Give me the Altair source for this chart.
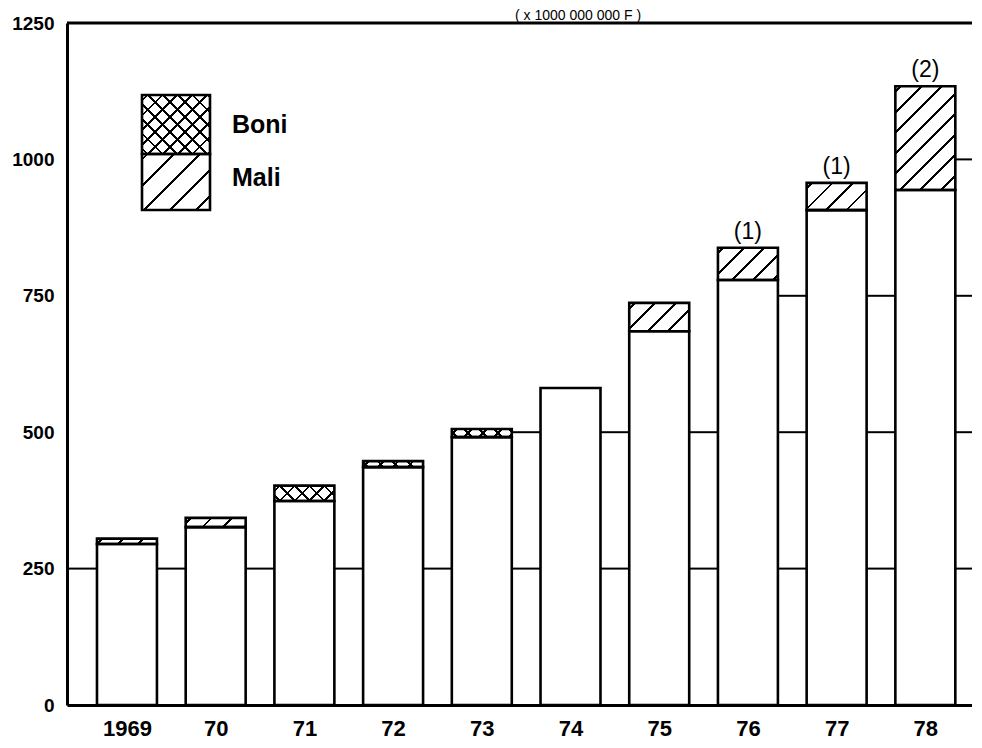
import json
import math
import altair as alt
import pandas as pd

# ---------------- data ----------------
years = ["1969", "70", "71", "72", "73", "74", "75", "76", "77", "78"]
base_vals = [295, 326, 374, 436, 491, 581, 685, 779, 907, 944]
mali_vals = [10, 17, 0, 0, 0, 0, 52, 59, 50, 190]
boni_vals = [0, 0, 28, 11, 15, 0, 0, 0, 0, 0]
notes = ["", "", "", "", "", "", "", "(1)", "(1)", "(2)"]
grid_levels = [250, 500, 750, 1000]
y_ticks = [0, 250, 500, 750, 1000, 1250]
legend_labels = ["Boni", "Mali"]
unit_title = ["( x 1000 000 000 F )"]
Y_MAX = 1250

# ---------------- style constants ----------------
HALF = 0.338          # half bar width (in category units)
XMIN, XMAX = -0.676, 9.526
W_PX, H_PX = 905, 682
NARROW = "Liberation Sans Narrow, Arial Narrow, Liberation Sans, Arial, sans-serif"
SANS = "Liberation Sans, Arial, Helvetica, sans-serif"
K = 240 * math.sqrt(2)   # gradient length (px along the normal = 240)
CLEAR = "rgba(0,0,0,0)"


def stripe_stops(period, thick, length=240.0, phase=3.0):
    stops = [{"offset": 0.0, "color": CLEAR}]
    k = 0
    while True:
        a = (phase + k * period) / length
        b = (phase + k * period + thick) / length
        if b >= 0.999:
            break
        stops += [{"offset": round(a, 5), "color": CLEAR},
                  {"offset": round(a, 5), "color": "black"},
                  {"offset": round(b, 5), "color": "black"},
                  {"offset": round(b, 5), "color": CLEAR}]
        k += 1
    stops.append({"offset": 1.0, "color": CLEAR})
    return stops


def stops_expr(stops):
    return "[" + ",".join("{offset: %s, color: '%s'}" % (s["offset"], s["color"]) for s in stops) + "]"


MALI_STOPS = stripe_stops(14.5, 1.9)
BONI_STOPS = stripe_stops(10.5, 1.9)
LEG_MALI_STOPS = stripe_stops(18.5, 1.9)

Wx = "(scale('x', datum.x2) - scale('x', datum.x1))"
Hx = "(scale('y', datum.lo) - scale('y', datum.hi))"
D = f"({Wx}*{Wx}+{Hx}*{Hx})"


def slash_expr(stops):
    return ("{gradient: 'linear', x1: 0, y1: 0, "
            f"x2: {K}*{Wx}/{D}, y2: {K}*{Hx}/{D}, stops: {stops_expr(stops)}}}")


def back_expr(stops):
    return ("{gradient: 'linear', x1: 0, y1: 1, "
            f"x2: {K}*{Wx}/{D}, y2: 1 - {K}*{Hx}/{D}, stops: {stops_expr(stops)}}}")


def slash_grad(w, h, stops):
    d = w * w + h * h
    return {"gradient": "linear", "x1": 0, "y1": 0, "x2": K * w / d, "y2": K * h / d, "stops": stops}


def back_grad(w, h, stops):
    d = w * w + h * h
    return {"gradient": "linear", "x1": 0, "y1": 1, "x2": K * w / d, "y2": 1 - K * h / d, "stops": stops}


# ---------------- tables ----------------
rows = []
totals = []
for i, y in enumerate(years):
    b, m, n = base_vals[i], mali_vals[i], boni_vals[i]
    rows.append({"i": i, "year": y, "kind": "base", "lo": 0, "hi": b})
    if m > 0:
        rows.append({"i": i, "year": y, "kind": "mali", "lo": b, "hi": b + m})
    if n > 0:
        rows.append({"i": i, "year": y, "kind": "boni", "lo": b + m, "hi": b + m + n})
    totals.append(b + m + n)
seg = pd.DataFrame(rows)

bars = pd.DataFrame({"i": range(len(years)), "year": years, "total": totals, "note": notes})

heights = [Y_MAX] + totals + [Y_MAX]
grows = []
for g in range(len(years) + 1):
    for lv in grid_levels:
        if lv < min(heights[g], heights[g + 1]):
            grows.append({"gap": g, "level": lv})
grid = pd.DataFrame(grows)

xs = alt.Scale(domain=[XMIN, XMAX], nice=False, zero=False)
ys = alt.Scale(domain=[0, Y_MAX], nice=False, zero=True)

X_AXIS = alt.Axis(
    values=list(range(len(years))), labelExpr=f"{json.dumps(years)}[datum.value]",
    ticks=False, grid=False, domain=True, domainColor="black", domainWidth=3,
    labelFont=NARROW, labelFontSize=22, labelFontWeight="bold", labelColor="black",
    labelPadding=13, labelAngle=0, title=None)
Y_AXIS = alt.Axis(
    values=y_ticks, format="d", ticks=False, grid=False, domain=True, domainColor="black",
    domainWidth=3, labelFont=NARROW, labelFontSize=19, labelFontWeight="bold",
    labelColor="black", labelPadding=13, title=None)

seg_base = alt.Chart(seg).transform_calculate(
    x1=f"datum.i - {HALF}", x2=f"datum.i + {HALF}"
)

# gridlines visible only in the gaps between columns
grid_layer = alt.Chart(grid).transform_calculate(
    gx1=f"datum.gap == 0 ? {XMIN} : datum.gap - 1 + {HALF}",
    gx2=f"datum.gap == {len(years)} ? {XMAX} : datum.gap - {HALF}",
).mark_rule(color="black", strokeWidth=2).encode(
    x=alt.X("gx1:Q", scale=xs, axis=X_AXIS),
    x2="gx2:Q",
    y=alt.Y("level:Q", scale=ys, axis=Y_AXIS),
)

top_line = alt.Chart(pd.DataFrame({"top": [Y_MAX]})).mark_rule(color="black", strokeWidth=3).encode(
    y=alt.Y("top:Q", scale=ys, axis=Y_AXIS)
)


def seg_layer(chart, **mark):
    return chart.mark_rect(**mark).encode(
        x=alt.X("x1:Q", scale=xs, axis=X_AXIS), x2="x2:Q",
        y=alt.Y("lo:Q", scale=ys, axis=Y_AXIS), y2="hi:Q",
    )


white = seg_layer(seg_base, fill="white", stroke=None)
mali_h = seg_layer(seg_base.transform_filter("datum.kind == 'mali'"),
                   fill=alt.ExprRef(slash_expr(MALI_STOPS)), stroke=None)
boni_h1 = seg_layer(seg_base.transform_filter("datum.kind == 'boni'"),
                    fill=alt.ExprRef(slash_expr(BONI_STOPS)), stroke=None)
boni_h2 = seg_layer(seg_base.transform_filter("datum.kind == 'boni'"),
                    fill=alt.ExprRef(back_expr(BONI_STOPS)), stroke=None)
outline = seg_layer(seg_base, fillOpacity=0, stroke="black", strokeWidth=2.6)

note_text = alt.Chart(bars).mark_text(
    font=NARROW, fontSize=23, color="black", baseline="bottom", dy=-4
).encode(
    x=alt.X("i:Q", scale=xs, axis=X_AXIS),
    y=alt.Y("total:Q", scale=ys, axis=Y_AXIS),
    text="note:N",
)

# ---------------- custom legend (pixel layout) ----------------
leg = pd.DataFrame({"label": legend_labels})
LX1, LX2 = 75, 143
BONI_Y1, BONI_Y2 = 72, 131
MALI_Y1, MALI_Y2 = 131, 187
lw, lhb, lhm = LX2 - LX1, BONI_Y2 - BONI_Y1, MALI_Y2 - MALI_Y1


def leg_rect(label, y1, y2, **mark):
    return alt.Chart(leg).transform_filter(f"datum.label == '{label}'").mark_rect(**mark).encode(
        x=alt.value(LX1), x2=alt.value(LX2), y=alt.value(y1), y2=alt.value(y2))


leg_boni_w = leg_rect("Boni", BONI_Y1, BONI_Y2, fill="white", stroke=None)
leg_boni_a = leg_rect("Boni", BONI_Y1, BONI_Y2, fill=slash_grad(lw, lhb, BONI_STOPS), stroke=None)
leg_boni_b = leg_rect("Boni", BONI_Y1, BONI_Y2, fill=back_grad(lw, lhb, BONI_STOPS), stroke=None)
leg_mali_w = leg_rect("Mali", MALI_Y1, MALI_Y2, fill="white", stroke=None)
leg_mali_a = leg_rect("Mali", MALI_Y1, MALI_Y2, fill=slash_grad(lw, lhm, LEG_MALI_STOPS), stroke=None)
leg_boni_box = leg_rect("Boni", BONI_Y1, BONI_Y2, fillOpacity=0, stroke="black", strokeWidth=2.6)
leg_mali_box = leg_rect("Mali", MALI_Y1, MALI_Y2, fillOpacity=0, stroke="black", strokeWidth=2.6)


def leg_text(label, yc):
    return alt.Chart(leg).transform_filter(f"datum.label == '{label}'").mark_text(
        font=SANS, fontSize=25, fontWeight="bold", color="black", align="left", baseline="middle"
    ).encode(x=alt.value(165), y=alt.value(yc), text="label:N")


leg_boni_t = leg_text("Boni", 102)
leg_mali_t = leg_text("Mali", 155)

title_text = alt.Chart(pd.DataFrame({"t": unit_title})).mark_text(
    font=SANS, fontSize=14, color="black", align="center", baseline="alphabetic"
).encode(x=alt.value(511), y=alt.value(-3), text="t:N")

chart = alt.layer(
    grid_layer, top_line, white, mali_h, boni_h1, boni_h2, outline, note_text,
    leg_boni_w, leg_boni_a, leg_boni_b, leg_mali_w, leg_mali_a, leg_boni_box, leg_mali_box,
    leg_boni_t, leg_mali_t, title_text,
).properties(
    width=W_PX, height=H_PX,
    autosize=alt.AutoSizeParams(type="none"),
    padding={"left": 59, "top": 15, "right": 0, "bottom": 35},
    background="white",
).configure_view(stroke=None)

chart.save("out.html", embed_options={"renderer": "svg", "actions": False})
